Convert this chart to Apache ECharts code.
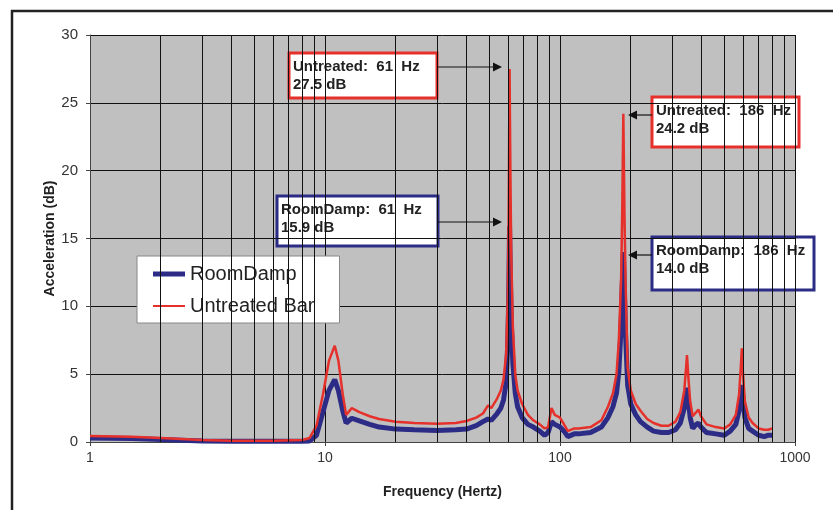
<!DOCTYPE html>
<html>
<head>
<meta charset="utf-8">
<script src="https://cdn.jsdelivr.net/npm/echarts@6/dist/echarts.min.js"></script>
<style>
    html, body {margin: 0; padding: 0; background: #fff;}
    #chart1 {width: 833px; height: 510px;}
</style>
</head>
<body>
<div id="chart1"></div>
<script>
// frequency (Hz) and acceleration (dB)
var freqs = [
    1, 1.5, 2, 3, 4, 6, 8, 8.6, 9.2, 9.8,
    10.4, 11, 11.4, 11.9, 12.3, 13, 14, 15.5, 17, 20,
    24, 30, 36, 40, 44, 47, 49.4, 51, 54, 56,
    57.5, 59, 60, 60.5, 61, 61.5, 62, 63, 64.5, 66,
    69, 73, 77, 82, 86, 89, 92, 95, 100, 104,
    108, 115, 120, 135, 150, 160, 168, 174, 178, 182,
    184, 186, 188, 190, 194, 200, 210, 220, 235, 250,
    270, 290, 310, 325, 338, 344, 347, 351, 358, 367,
    380, 388, 398, 420, 460, 500, 530, 560, 578, 588,
    594, 600, 612, 635, 660, 700, 740, 770, 800
];
var untreated = [
    0.45, 0.38, 0.3, 0.15, 0.1, 0.1, 0.15, 0.3, 1.2, 3.5,
    6.0, 7.1, 6.0, 3.5, 2.0, 2.5, 2.2, 1.9, 1.7, 1.5,
    1.4, 1.35, 1.4, 1.55, 1.8, 2.1, 2.7, 2.5, 3.2, 3.8,
    4.6, 6.5, 11, 17, 27.5, 20, 14, 8.5, 5, 3.8,
    2.8, 2.0, 1.6, 1.3, 1.0, 1.1, 2.5, 2.0, 1.8, 1.3,
    0.8, 1.0, 1.0, 1.1, 1.6, 2.6, 3.6, 5, 7.5, 12,
    17, 24.2, 17, 12, 5.5, 3.8, 2.8, 2.3, 1.7, 1.4,
    1.2, 1.2, 1.5, 2.2, 3.8, 5.5, 6.4, 5.0, 3.0, 1.9,
    2.2, 2.4, 1.9, 1.3, 1.1, 1.0, 1.3, 2.0, 3.5, 5.5,
    6.9, 5.2, 3.0, 1.8, 1.4, 1.0, 0.9, 0.9, 1.0
];
var roomDamp = [
    0.3, 0.25, 0.18, 0.08, 0.05, 0.05, 0.05, 0.08, 0.5, 2.2,
    3.8, 4.6, 3.8, 2.3, 1.4, 1.75, 1.55, 1.3, 1.1, 0.95,
    0.9, 0.85, 0.9, 0.95, 1.2, 1.5, 1.7, 1.6, 2.1, 2.5,
    3.1, 4.4, 7.5, 10.5, 15.9, 12, 9, 5.8, 3.6, 2.6,
    1.8, 1.3, 1.1, 0.8, 0.5, 0.7, 1.5, 1.3, 1.1, 0.8,
    0.4, 0.6, 0.6, 0.7, 1.1, 1.8, 2.6, 3.6, 5.2, 8.5,
    11.5, 14.0, 11, 8, 4.2, 2.8, 2.0, 1.5, 1.1, 0.8,
    0.7, 0.7, 0.9, 1.4, 2.5, 3.5, 4.0, 3.2, 1.8, 1.0,
    1.3, 1.4, 1.1, 0.7, 0.6, 0.5, 0.8, 1.3, 2.3, 3.5,
    4.2, 3.3, 1.8, 1.0, 0.8, 0.5, 0.4, 0.5, 0.5
];
// minor vertical grid lines of the log axis
var minorTicks = [2, 3, 4, 5, 6, 7, 8, 9, 20, 30, 40, 50, 60, 70, 80, 90,
    200, 300, 400, 500, 600, 700, 800, 900];
var seriesNames = ['RoomDamp', 'Untreated Bar'];

var RED = '#e5302b';
var NAVY = '#2c2c86';
var FONT = 'Arial, "Liberation Sans", sans-serif';

function pairs(ys) {
    return freqs.map(function (f, i) {
        return [f, ys[i]];
    });
}

// boxed note with two lines of bold text
function noteBox(x, y, w, h, color, line1, line2) {
    return {
        type: 'group',
        children: [
            {
                type: 'rect',
                shape: {x: x, y: y, width: w, height: h},
                style: {fill: '#fff', stroke: color, lineWidth: 3}
            },
            {
                type: 'text',
                style: {x: x + 4, y: y + 14, text: line1, font: 'bold 15px ' + FONT,
                    fill: '#222', verticalAlign: 'middle'}
            },
            {
                type: 'text',
                style: {x: x + 4, y: y + 32, text: line2, font: 'bold 15px ' + FONT,
                    fill: '#222', verticalAlign: 'middle'}
            }
        ]
    };
}

function arrow(x1, x2, y) {
    var dir = x2 > x1 ? 1 : -1;
    return {
        type: 'group',
        children: [
            {
                type: 'line',
                shape: {x1: x1, y1: y, x2: x2 - dir * 6, y2: y},
                style: {stroke: '#111', lineWidth: 1.2}
            },
            {
                type: 'polygon',
                shape: {points: [[x2, y], [x2 - dir * 9, y - 4.5], [x2 - dir * 9, y + 4.5]]},
                style: {fill: '#111'}
            }
        ]
    };
}

function showChart() {
    var dom = document.getElementById('chart1');
    var myChart = echarts.init(dom);
    option = null;
    option = {
        animation: false,
        backgroundColor: '#fff',
        textStyle: {fontFamily: FONT},
        grid: {
            left: 90,
            top: 35,
            width: 705,
            height: 407,
            show: true,
            backgroundColor: '#c0c0c0',
            borderWidth: 0
        },
        legend: {
            data: [
                {name: seriesNames[0], icon: 'path://M0,0 L32,0 L32,5 L0,5 Z'},
                {name: seriesNames[1], icon: 'path://M0,0 L32,0 L32,2 L0,2 Z'}
            ],
            orient: 'vertical',
            left: 137,
            top: 256,
            padding: [8, 25, 7, 16],
            itemWidth: 32,
            itemHeight: 14,
            itemGap: 12,
            backgroundColor: '#fff',
            borderColor: '#888',
            borderWidth: 1,
            textStyle: {fontSize: 20, color: '#222', fontFamily: FONT}
        },
        xAxis: {
            type: 'log',
            logBase: 10,
            min: 1,
            max: 1000,
            name: 'Frequency (Hertz)',
            nameLocation: 'middle',
            nameGap: 43,
            nameTextStyle: {fontSize: 14, fontWeight: 'bold', color: '#222'},
            axisLine: {lineStyle: {color: '#444', width: 1}},
            axisTick: {show: true, length: 4, lineStyle: {color: '#444'}},
            axisLabel: {
                fontSize: 14,
                color: '#333',
                margin: 9,
                formatter: function (value) {
                    return String(value);
                }
            },
            splitLine: {show: true, lineStyle: {color: '#111', width: 1}},
            minorTick: {show: false}
        },
        yAxis: {
            type: 'value',
            min: 0,
            max: 30,
            interval: 5,
            name: 'Acceleration (dB)',
            nameLocation: 'middle',
            nameGap: 33,
            nameMoveOverlap: false,
            nameTextStyle: {fontSize: 14, fontWeight: 'bold', color: '#222'},
            axisLine: {show: true, lineStyle: {color: '#444', width: 1}},
            axisTick: {show: true, length: 4, lineStyle: {color: '#444'}},
            axisLabel: {fontSize: 15, color: '#333', margin: 12},
            splitLine: {show: true, lineStyle: {color: '#111', width: 1}}
        },
        series: [
            { // minor grid lines only
                name: 'grid',
                type: 'line',
                data: [],
                z: 1,
                silent: true,
                markLine: {
                    silent: true,
                    animation: false,
                    symbol: ['none', 'none'],
                    label: {show: false},
                    lineStyle: {color: '#111', type: 'solid', width: 1},
                    emphasis: {disabled: true},
                    data: minorTicks.map(function (f) {
                        return {xAxis: f};
                    })
                }
            },
            {
                name: seriesNames[0],
                type: 'line',
                data: pairs(roomDamp),
                z: 3,
                showSymbol: false,
                symbol: 'none',
                color: NAVY,
                lineStyle: {color: NAVY, width: 5}
            },
            {
                name: seriesNames[1],
                type: 'line',
                data: pairs(untreated),
                z: 4,
                showSymbol: false,
                symbol: 'none',
                color: RED,
                lineStyle: {color: RED, width: 2.5}
            }
        ],
        graphic: [
            {
                type: 'rect',
                shape: {x: 12, y: 11, width: 840, height: 530},
                style: {fill: 'none', stroke: '#222', lineWidth: 2.5},
                silent: true
            },
            noteBox(289, 53, 148, 45, RED, 'Untreated:  61  Hz', '27.5 dB'),
            arrow(437, 502, 67),
            noteBox(277, 196, 161, 50, NAVY, 'RoomDamp:  61  Hz', '15.9 dB'),
            arrow(438, 502, 222),
            noteBox(652, 97, 147, 50, RED, 'Untreated:  186  Hz', '24.2 dB'),
            arrow(652, 628, 115),
            noteBox(652, 237, 162, 53, NAVY, 'RoomDamp:  186  Hz', '14.0 dB'),
            arrow(652, 628, 255)
        ]
    };

    if (option && typeof option === "object") {
        myChart.setOption(option, true);
    }
}

showChart();
</script>
</body>
</html>
